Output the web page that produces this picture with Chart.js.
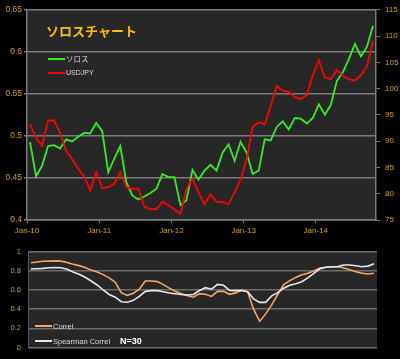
<!DOCTYPE html>
<html><head><meta charset="utf-8">
<script src="https://cdn.jsdelivr.net/npm/chart.js@4.4.0/dist/chart.umd.min.js"></script>
<style>
html,body{margin:0;padding:0;background:#000;width:400px;height:359px;overflow:hidden}
.box{position:absolute;left:0;width:400px}
</style></head><body>
<div class="box" style="top:0;height:240px"><canvas id="c1"></canvas></div>
<div class="box" style="top:240px;height:119px"><canvas id="c2"></canvas></div>
<script>
const months = [
 'Jan-10','Feb-10','Mar-10','Apr-10','May-10','Jun-10','Jul-10','Aug-10','Sep-10','Oct-10','Nov-10','Dec-10',
 'Jan-11','Feb-11','Mar-11','Apr-11','May-11','Jun-11','Jul-11','Aug-11','Sep-11','Oct-11','Nov-11','Dec-11',
 'Jan-12','Feb-12','Mar-12','Apr-12','May-12','Jun-12','Jul-12','Aug-12','Sep-12','Oct-12','Nov-12','Dec-12',
 'Jan-13','Feb-13','Mar-13','Apr-13','May-13','Jun-13','Jul-13','Aug-13','Sep-13','Oct-13','Nov-13','Dec-13',
 'Jan-14','Feb-14','Mar-14','Apr-14','May-14','Jun-14','Jul-14','Aug-14','Sep-14','Oct-14'
];
const yearTicks = ['Jan-10','Jan-11','Jan-12','Jan-13','Jan-14'];

const soros = [
 0.4927,0.452,0.4645,0.488,0.489,0.485,0.496,0.4935,0.499,0.5036,0.503,0.5154,
 0.5056,0.4567,0.473,0.488,0.445,0.4293,0.4243,0.428,0.432,0.437,0.4548,0.451,
 0.451,0.4176,0.4235,0.4595,0.448,0.4587,0.4657,0.4587,0.480,0.490,0.4704,0.493,
 0.480,0.4548,0.4587,0.4959,0.4947,0.5107,0.5174,0.5076,0.5213,0.5205,0.5147,0.5213,
 0.5377,0.5252,0.537,0.5655,0.576,0.5917,0.6093,0.5945,0.6062,0.6309
];
const usdjpy = [
 93.18,90.66,89.1,93.93,93.93,91.6,88.16,86.6,84.7,83.33,80.64,84.08,
 81.07,81.26,81.9,84.08,81.26,80.95,80.95,77.5,77.07,77.07,78.44,77.8,
 77.0,76.2,80.95,82.9,80.2,78.0,79.83,78.44,78.44,78.0,80.32,82.7,
 86.6,92.73,93.6,93.18,96.75,100.5,99.6,99.43,98.37,98.0,98.8,102.57,
 105.4,102.13,101.8,103.6,102.4,101.8,101.5,102.57,104.27,109.1
];
const correl = [
 0.883,0.89,0.898,0.9,0.902,0.9,0.885,0.867,0.853,0.834,
 0.806,0.787,0.759,0.726,0.679,0.571,0.543,0.566,0.608,0.693,
 0.693,0.686,0.655,0.618,0.585,0.561,0.538,0.524,0.561,0.554,
 0.532,0.585,0.585,0.554,0.569,0.599,0.58,0.397,0.272,0.35,
 0.444,0.552,0.655,0.696,0.73,0.757,0.773,0.798,0.829,0.836,
 0.84,0.841,0.829,0.81,0.789,0.773,0.766,0.773
];
const spearman = [
 0.82,0.82,0.824,0.831,0.834,0.831,0.815,0.787,0.763,0.731,
 0.693,0.651,0.599,0.552,0.524,0.477,0.472,0.491,0.533,0.585,
 0.592,0.592,0.58,0.568,0.56,0.552,0.547,0.552,0.594,0.623,
 0.607,0.657,0.648,0.594,0.592,0.594,0.58,0.507,0.47,0.47,
 0.538,0.571,0.618,0.648,0.665,0.685,0.726,0.773,0.82,0.836,
 0.841,0.843,0.86,0.86,0.851,0.841,0.848,0.873
];
const leftTicks = {min:0.4, max:0.65, step:0.05};
const rightTicks = {min:75, max:115, step:5};
const corrTicks = {min:0, max:1, step:0.2};

const FONT = 'Liberation Sans, Arial, sans-serif';
const TICKCOL = '#d2a200';
const GRID = '#7c7c7c';

const plotBg = {
  id:'plotBg',
  beforeDraw(chart){
    const {ctx, chartArea:a} = chart;
    ctx.save();
    ctx.fillStyle = '#272727';
    ctx.fillRect(a.left, a.top, a.right-a.left, a.bottom-a.top);
    ctx.restore();
  }
};

function legendLine(ctx, x, y, color, text, font, tcol){
  ctx.strokeStyle = color; ctx.lineWidth = 2;
  ctx.beginPath(); ctx.moveTo(x, y); ctx.lineTo(x+17, y); ctx.stroke();
  ctx.fillStyle = tcol; ctx.font = font; ctx.textBaseline = 'middle'; ctx.textAlign = 'left';
  ctx.fillText(text, x+18, y+0.5);
}

const topDecor = {
  id:'topDecor',
  afterDraw(chart){
    const ctx = chart.ctx; const ds = chart.data.datasets;
    ctx.save();
    ctx.fillStyle = '#ffc000';
    ctx.font = 'bold 13px "Noto Sans CJK JP", sans-serif';
    ctx.textBaseline = 'middle';
    ctx.fillText('ソロスチャート', 46, 31);
    legendLine(ctx, 48, 59, ds[0].borderColor, ds[0].label, '7.5px "Noto Sans CJK JP", sans-serif', '#dcdcdc');
    legendLine(ctx, 48, 73, ds[1].borderColor, ds[1].label, '7px ' + FONT, '#dcdcdc');
    ctx.restore();
  }
};

const botDecor = {
  id:'botDecor',
  afterDraw(chart){
    const ctx = chart.ctx; const ds = chart.data.datasets;
    ctx.save();
    legendLine(ctx, 35, 86, ds[0].borderColor, ds[0].label, '7.5px ' + FONT, '#d9d9d9');
    legendLine(ctx, 35, 101, ds[1].borderColor, ds[1].label, '7.5px ' + FONT, '#d9d9d9');
    ctx.fillStyle = '#ffffff';
    ctx.font = 'bold 9px ' + FONT;
    ctx.textBaseline = 'middle';
    ctx.fillText('N=30', 120, 101.5);
    ctx.restore();
  }
};

new Chart(document.getElementById('c1'), {
  type:'line',
  data:{
    labels: months,
    datasets:[
      {label:'ソロス', data:soros, yAxisID:'y', borderColor:'#33ee22', borderWidth:1.8, pointRadius:0, tension:0, order:1},
      {label:'USDJPY', data:usdjpy, yAxisID:'y2', borderColor:'#ff0000', borderWidth:1.8, pointRadius:0, tension:0, order:0}
    ]
  },
  options:{
    responsive:true, maintainAspectRatio:false, animation:false, devicePixelRatio:1,
    layout:{padding:{top:7,left:0,right:0,bottom:0}},
    plugins:{legend:{display:false}, tooltip:{enabled:false}},
    scales:{
      x:{
        type:'category', offset:true,
        grid:{offset:true, drawOnChartArea:false, drawTicks:true, tickLength:3,
              color: c => (yearTicks.includes(months[c.index]) ? GRID : 'rgba(0,0,0,0)')},
        border:{display:true, color:GRID, width:1.5},
        ticks:{autoSkip:false, maxRotation:0, color:TICKCOL, font:{family:FONT, size:8}, padding:3, labelOffset:-3,
               callback:(v,i) => yearTicks.includes(months[i]) ? months[i] : ''},
        afterFit: s => { s.height = 20; }
      },
      y:{
        position:'left', min:leftTicks.min, max:leftTicks.max,
        ticks:{stepSize:leftTicks.step, color:TICKCOL, font:{family:FONT, size:8.5}, padding:2,
               callback: v => String(+(+v).toFixed(2))},
        grid:{color:GRID, lineWidth:1.5, tickLength:3},
        border:{display:true, color:GRID, width:1.5},
        afterFit: s => { s.width = 27; }
      },
      y2:{
        position:'right', min:rightTicks.min, max:rightTicks.max,
        ticks:{stepSize:rightTicks.step, color:TICKCOL, font:{family:FONT, size:8}, padding:5},
        grid:{drawOnChartArea:false, color:GRID, tickLength:4},
        border:{display:true, color:GRID, width:1.5},
        afterFit: s => { s.width = 24; }
      }
    }
  },
  plugins:[plotBg, topDecor]
});

new Chart(document.getElementById('c2'), {
  type:'line',
  data:{
    labels: months,
    datasets:[
      {label:'Correl', data:correl, borderColor:'#f2a864', borderWidth:1.6, pointRadius:0, tension:0, order:1},
      {label:'Spearman Correl', data:spearman, borderColor:'#e6e6f0', borderWidth:1.6, pointRadius:0, tension:0, order:0}
    ]
  },
  options:{
    responsive:true, maintainAspectRatio:false, animation:false, devicePixelRatio:1,
    layout:{padding:{top:6,left:0,right:23,bottom:7}},
    plugins:{legend:{display:false}, tooltip:{enabled:false}},
    scales:{
      x:{type:'category', offset:true, display:false},
      y:{
        min:corrTicks.min, max:corrTicks.max,
        ticks:{stepSize:corrTicks.step, color:TICKCOL, font:{family:FONT, size:7.5}, padding:7,
               callback: v => String(+(+v).toFixed(1))},
        grid:{color:'#6c6c6c', lineWidth:1.5, drawTicks:false},
        border:{display:true, color:'#555555', width:1},
        afterFit: s => { s.width = 28; }
      }
    }
  },
  plugins:[plotBg, botDecor]
});
</script>
</body></html>
